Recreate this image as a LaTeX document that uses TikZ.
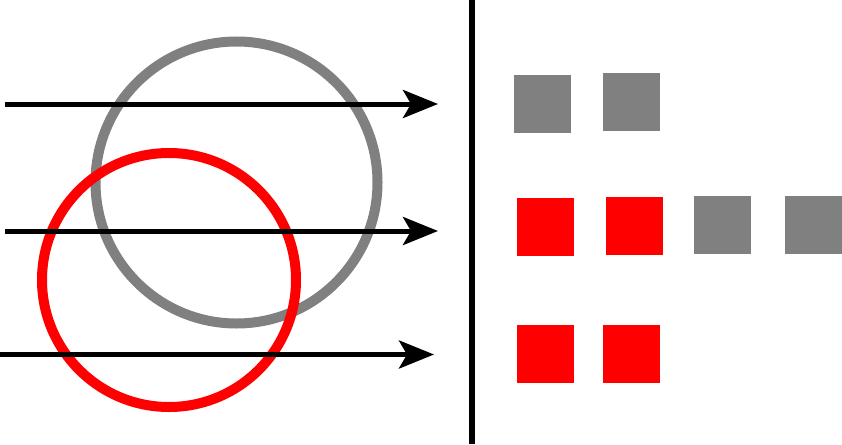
\documentclass[tikz,border=0pt]{standalone}
\usepackage{tikz}
\usepackage{xcolor}
\usetikzlibrary{arrows.meta}
\definecolor{ringgray}{HTML}{808080}
\definecolor{ringred}{HTML}{FF0000}
\tikzset{
    ray/.style={line width=5pt, -{Stealth[length=35pt, width=28pt, inset=8pt]}},
    ring/.style={line width=10pt},
    token/.style={inner sep=0pt, minimum width=57pt, minimum height=58pt}
}
\begin{document}
\begin{tikzpicture}[x=1pt, y=-1pt]
    \useasboundingbox (0,0) rectangle (842,444);

    % Rings
    \draw[ring, ringgray] (236.5,182.5) circle (141);
    \draw[ring, ringred] (169,280) circle (127);

    % Rays
    \coordinate (in1) at (5,104);
    \coordinate (out1) at (438,104);
    \coordinate (in2) at (5,231);
    \coordinate (out2) at (438,231);
    \coordinate (in3) at (0,354.5);
    \coordinate (out3) at (434,354.5);
    \draw[ray] (in1) -- (out1);
    \draw[ray] (in2) -- (out2);
    \draw[ray] (in3) -- (out3);

    % Screen
    \coordinate (top) at (471.7,0);
    \coordinate (bottom) at (471.7,444);
    \draw[line width=6pt] (top) -- (bottom);

    % Tokens, first row
    \node[token, fill=ringgray] (g11) at (542,103.7) {};
    \node[token, fill=ringgray] (g12) at (631.5,102) {};

    % Tokens, second row
    \node[token, fill=ringred] (r21) at (545.5,226.5) {};
    \node[token, fill=ringred] (r22) at (634.8,225.7) {};
    \node[token, fill=ringgray] (g23) at (722.4,224.8) {};
    \node[token, fill=ringgray] (g24) at (813.3,225) {};

    % Tokens, third row
    \node[token, fill=ringred] (r31) at (545.6,353.5) {};
    \node[token, fill=ringred] (r32) at (631.3,354.3) {};
\end{tikzpicture}
\end{document}
